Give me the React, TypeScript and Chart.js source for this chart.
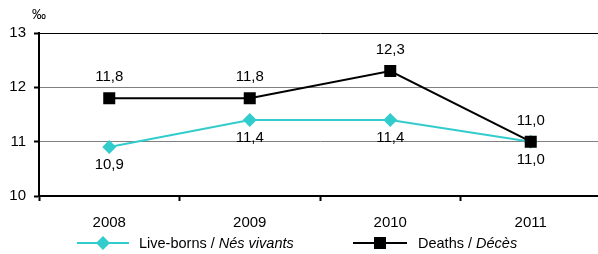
import React, { useEffect, useRef } from "react";
import { Chart, registerables } from "chart.js";

Chart.register(...registerables);

const categories = ["2008", "2009", "2010", "2011"];
const liveBorns = [10.9, 11.4, 11.4, 11.0];
const deaths = [11.8, 11.8, 12.3, 11.0];
const yTicks = [10, 11, 12, 13];
const unitLabel = "‰";
const liveLabelA = "Live-borns / ";
const liveLabelB = "Nés vivants";
const deathLabelA = "Deaths / ";
const deathLabelB = "Décès";

const CYAN = "#33CCCC";
const FONT = "Liberation Sans, Arial, sans-serif";

const fmt = (v: number) => v.toFixed(1).replace(".", ",");

export default function App() {
  const ref = useRef<HTMLCanvasElement | null>(null);

  useEffect(() => {
    document.body.style.margin = "0";
    const canvas = ref.current!;
    const overlay = {
      id: "overlay",
      afterDatasetsDraw(chart: any) {
        const ctx = chart.ctx;
        ctx.save();
        ctx.font = `15px ${FONT}`;
        ctx.fillStyle = "#000";
        ctx.textAlign = "center";
        ctx.textBaseline = "middle";
        const m0 = chart.getDatasetMeta(0);
        const m1 = chart.getDatasetMeta(1);
        m0.data.forEach((p: any, i: number) => {
          ctx.fillText(fmt(liveBorns[i]), p.x, p.y + 18);
        });
        m1.data.forEach((p: any, i: number) => {
          ctx.fillText(fmt(deaths[i]), p.x, p.y - 21);
        });
        // unit
        ctx.font = `14px ${FONT}`;
        ctx.textAlign = "left";
        ctx.fillText(unitLabel, 32, 15);
        // legend
        const ly = 243;
        ctx.lineWidth = 2;
        ctx.strokeStyle = CYAN;
        ctx.beginPath();
        ctx.moveTo(77, ly);
        ctx.lineTo(129, ly);
        ctx.stroke();
        ctx.fillStyle = CYAN;
        ctx.beginPath();
        ctx.moveTo(103, ly - 7);
        ctx.lineTo(110, ly);
        ctx.lineTo(103, ly + 7);
        ctx.lineTo(96, ly);
        ctx.closePath();
        ctx.fill();
        ctx.strokeStyle = "#000";
        ctx.beginPath();
        ctx.moveTo(353, ly);
        ctx.lineTo(407, ly);
        ctx.stroke();
        ctx.fillStyle = "#000";
        ctx.fillRect(374, ly - 6, 12, 12);
        ctx.font = `14.5px ${FONT}`;
        ctx.fillStyle = "#000";
        ctx.textAlign = "left";
        ctx.fillText(liveLabelA, 139, ly + 1);
        let w = ctx.measureText(liveLabelA).width;
        ctx.font = `italic 14.5px ${FONT}`;
        ctx.fillText(liveLabelB, 139 + w, ly + 1);
        ctx.font = `14.5px ${FONT}`;
        ctx.fillText(deathLabelA, 418, ly + 1);
        w = ctx.measureText(deathLabelA).width;
        ctx.font = `italic 14.5px ${FONT}`;
        ctx.fillText(deathLabelB, 418 + w, ly + 1);
        ctx.restore();
      },
    };

    const chart = new Chart(canvas, {
      type: "line",
      data: {
        labels: categories,
        datasets: [
          {
            label: liveLabelA + liveLabelB,
            data: liveBorns,
            borderColor: CYAN,
            backgroundColor: CYAN,
            borderWidth: 2,
            pointStyle: "rectRot",
            pointRadius: 7,
            pointBorderWidth: 0,
            tension: 0,
            order: 1,
          },
          {
            label: deathLabelA + deathLabelB,
            data: deaths,
            borderColor: "#000",
            backgroundColor: "#000",
            borderWidth: 2,
            pointStyle: "rect",
            pointRadius: 8.5,
            pointBorderWidth: 0,
            tension: 0,
            order: 0,
          },
        ],
      },
      options: {
        responsive: false,
        animation: false,
        devicePixelRatio: 1,
        layout: { autoPadding: false, padding: { top: 33, right: 0, bottom: 0, left: 0 } },
        plugins: { legend: { display: false }, tooltip: { enabled: false } },
        scales: {
          x: {
            offset: true,
            grid: {
              offset: true,
              drawOnChartArea: false,
              drawTicks: true,
              tickLength: 5,
              tickWidth: 2,
              tickColor: "#000",
            },
            border: { display: true, color: "#000", width: 2 },
            ticks: {
              color: "#000",
              font: { family: FONT, size: 15 },
              padding: 13,
              maxRotation: 0,
            },
            afterFit: (s: any) => {
              s.height = 58;
              s.paddingLeft = 0;
              s.paddingRight = 0;
            },
          },
          y: {
            min: 10,
            max: 13,
            afterBuildTicks: (s: any) => {
              s.ticks = yTicks.map((v) => ({ value: v }));
            },
            grid: {
              color: (c: any) => (c.tick && c.tick.value === 13 ? "#000" : "#808080"),
              lineWidth: 1,
              drawTicks: true,
              tickLength: 5,
              tickWidth: 2,
              tickColor: "#000",
            },
            border: { display: true, color: "#000", width: 2 },
            ticks: {
              color: "#000",
              font: { family: FONT, size: 15 },
              padding: 8,
              callback: (v: any) => String(v),
            },
            afterFit: (s: any) => {
              s.width = 39;
            },
          },
        },
      },
      plugins: [overlay],
    });
    return () => chart.destroy();
  }, []);

  return (
    <div style={{ width: 598, height: 254, overflow: "hidden" }}>
      <canvas ref={ref} width={601} height={254} style={{ display: "block" }} />
    </div>
  );
}
